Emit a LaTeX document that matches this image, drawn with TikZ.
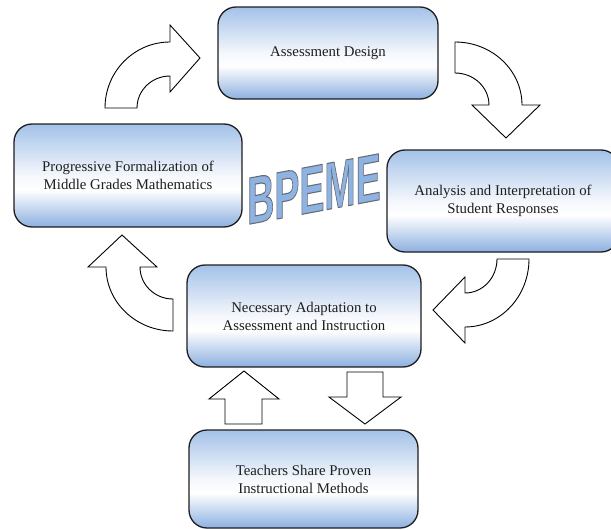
\documentclass[tikz,border=0pt]{standalone}
\usepackage{fontspec}
\setmainfont{Liberation Serif}
\newfontfamily\artfont{Liberation Sans}
\pgfdeclareverticalshading{boxfill}{100bp}{%
  rgb(0bp)=(0.55,0.69,0.88); rgb(25bp)=(0.55,0.69,0.88);
  rgb(43bp)=(1,1,1); rgb(50bp)=(0.96,0.97,0.99);
  rgb(75bp)=(0.64,0.76,0.91); rgb(100bp)=(0.64,0.76,0.91)}
\definecolor{wordblue}{RGB}{141,179,226}
\definecolor{ink}{RGB}{30,30,30}
% fill-and-stroke text rendering with a thin grey outline
\newcommand{\outlinedword}[1]{%
  \special{pdf:code q 2 Tr 1.1 w 0.42 0.42 0.45 RG}#1\special{pdf:code Q}}
\begin{document}
\begin{tikzpicture}[x=1pt,y=-1pt,
  stagebox/.style={draw=ink, line width=1.3pt, rounded corners=18pt,
    shading=boxfill, align=center, text=ink, inner sep=0pt,
    font=\fontsize{14.8}{18}\selectfont},
  blockarrow/.style={draw=black, fill=white, line width=0.9pt, line join=miter},
  artword/.style={font=\artfont\bfseries\fontsize{67}{67}\selectfont,
    xscale=0.56, yslant=0.105, transform shape, inner sep=0pt}]
\useasboundingbox (0,0) rectangle (611,530);

% cycle stages
\node[stagebox, minimum width=220pt, minimum height=92pt] (design) at (328,53)
  {Assessment Design};
\node[stagebox, minimum width=228pt, minimum height=103pt] (formal) at (128,175.5)
  {Progressive Formalization of\\Middle Grades Mathematics};
\node[stagebox, minimum width=232pt, minimum height=102pt] (analysis) at (503,201)
  {Analysis and Interpretation of\\Student Responses};
\node[stagebox, minimum width=234pt, minimum height=102pt] (adapt) at (304,316)
  {Necessary Adaptation to\\Assessment and Instruction};
\node[stagebox, minimum width=229pt, minimum height=98pt] (share) at (303.5,479)
  {Teachers Share Proven\\Instructional Methods};

% curved block arrows between stages
\draw[blockarrow] (105,108) .. controls (105,71.5) and (134.1,42) .. (170,42)
  -- (170,25) -- (200,58) -- (170,92) -- (170,76)
  .. controls (151.8,76) and (137,90.3) .. (137,108) -- cycle;
\draw[blockarrow] (455,42) .. controls (492,42) and (522,70.2) .. (522,105)
  -- (540,105) -- (506,138) -- (472,105) -- (489,105)
  .. controls (489,87.3) and (473.8,73) .. (455,73) -- cycle;
\draw[blockarrow] (529,259) .. controls (529,296.6) and (500.3,327) .. (465,327)
  -- (465,343) -- (433,310) -- (465,277) -- (465,293)
  .. controls (482.7,293) and (497,277.8) .. (497,259) -- cycle;
\draw[blockarrow] (173,331) .. controls (136,331) and (106,302.3) .. (106,267)
  -- (88,267) -- (122,235) -- (157,267) -- (140,267)
  .. controls (140,284.7) and (154.8,299) .. (173,299) -- cycle;

% straight block arrows
\draw[blockarrow] (225,424) -- (225,399) -- (209,399) -- (244,371)
  -- (279,399) -- (262,399) -- (262,424) -- cycle;
\draw[blockarrow] (347,372) -- (383,372) -- (383,397) -- (401,397)
  -- (365,424) -- (329,397) -- (347,397) -- cycle;

% title word art
\node[artword, text=wordblue] (title) at (314,189) {\outlinedword{BPEME}};
\end{tikzpicture}
\end{document}
